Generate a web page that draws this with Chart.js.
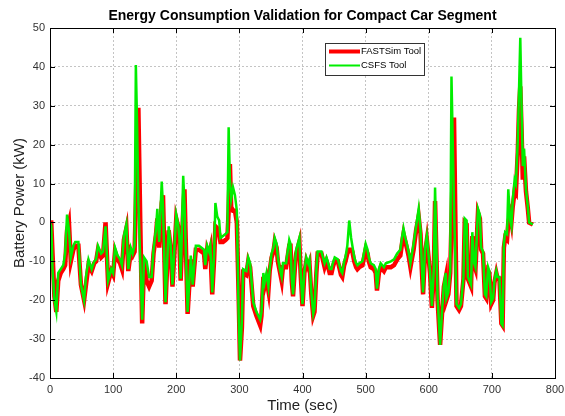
<!DOCTYPE html>
<html>
<head>
<meta charset="utf-8">
<script src="https://cdn.jsdelivr.net/npm/chart.js@4"></script>
<style>
  html, body { margin: 0; padding: 0; background: #fff; }
  #wrap { width: 565px; height: 416px; }
</style>
</head>
<body>
<div id="wrap"><canvas id="powerChart" width="565" height="416"></canvas></div>
<script>
// time in seconds, battery power in kW
const time = [0, 2, 4, 7, 10, 13, 17, 21, 24, 27, 30, 33, 37, 40, 45, 49, 54, 57, 61, 66,
  70, 73, 76, 81, 84, 88, 92, 97, 100, 103, 107, 111, 114, 117, 121, 124, 128, 131, 134, 136,
  138, 140, 143, 146, 149, 153, 157, 161, 164, 168, 170, 173, 177, 179, 183, 188, 191, 194, 197, 200,
  203, 205, 207, 211, 213, 218, 223, 226, 228, 231, 236, 244, 246, 249, 252, 254, 257, 260, 262, 265,
  268, 270, 274, 278, 281, 283, 285, 287, 290, 293, 296, 299, 301, 304, 306, 311, 314, 317, 322, 327,
  333, 335, 338, 340, 343, 346, 348, 351, 354, 356, 359, 361, 364, 367, 369, 374, 379, 381, 383, 385,
  388, 390, 395, 397, 400, 403, 406, 409, 411, 414, 417, 419, 422, 424, 430, 435, 438, 440, 443, 446,
  448, 451, 456, 461, 463, 466, 468, 471, 474, 477, 479, 482, 485, 487, 490, 495, 500, 503, 505, 508,
  513, 516, 518, 521, 524, 529, 532, 540, 545, 550, 555, 558, 560, 563, 566, 568, 571, 576, 580, 584,
  587, 589, 591, 594, 597, 600, 602, 605, 608, 610, 614, 618, 621, 624, 627, 628, 631, 634, 636, 640,
  644, 648, 651, 655, 657, 660, 662, 667, 669, 672, 674, 678, 681, 683, 686, 689, 691, 694, 696, 699,
  702, 704, 707, 709, 712, 715, 717, 719, 721, 724, 726, 729, 731, 733, 736, 738, 741, 743, 745, 747,
  749, 751, 754, 757, 759, 765];

const fastsim = [0, 0, -8, -19, -23, -15, -13, -12, -11, -2, 0, -10, -7, -6, -6, -16, -20, -16, -11, -12.5,
  -10.5, -10, -7, -9, -8.5, 0, -15.5, -12.5, -13.5, -7.5, -9.5, -10.5, -12, -4.5, -1.5, -12.5, -7.5, -8.5, -7.5, 5,
  20, 29.5, 0, -26, -10, -15, -16.5, -15, -8, -3, 1, -6.5, 5, 7, -21, -2, -6.5, -16.5, -8, 1,
  -1, -5, -15, 3, 8.5, -23.5, -9.5, -16.5, -12.5, -7, -7, -8, -12, -7, -8.5, -7, -18.5, -9.5, -1, -1.5,
  -3, -5, -5, -4.5, -4, 3, 15, 4, 3, 3, 0, -20, -35.5, -27, -13, -13.5, -10, -11.5, -21.5, -24,
  -26.5, -24, -14, -16.5, -14.5, -17.5, -12.5, -9, -7.5, -5, -6.5, -10, -12.5, -15, -11.5, -11.5, -6, -6, -15, -19,
  -11.5, -8, -5, -13, -21.5, -13, -10, -11.5, -10.5, -18.5, -24, -23, -13, -8, -8, -11.5, -10, -11, -13, -13,
  -11.5, -10, -10, -13.5, -14, -11, -10, -8, -7, -7, -7.5, -10, -11.5, -12, -11.5, -11, -7, -8, -10, -11.5,
  -12, -13, -17.5, -13, -11.5, -12.5, -11.5, -11.5, -11, -9.5, -8.5, -5, -3, -5, -7, -8.5, -11.5, -7, -2, 1.5,
  -3, -12, -18.5, -8, -4.5, -9.5, -13, -22, -13, 5.5, -20, -31.5, -23.5, -16.5, -14, -20, -18.5, -13, 0, 27,
  -21.5, -22.5, -21.5, -14.5, 0, -0.5, -14.5, -16.5, -3.5, -11, -12, 2.5, 1, -7, -8, -19, -19.5, -12.5, -13, -21,
  -20, -15.5, -13, -14.5, -14.5, -26, -26.5, -6.5, -4, -4.5, 0, 2, 0, 4, 8, 7.5, 18, 29, 35, 24,
  11, 17, 8, 3.5, 0, -0.5];

const csfs = [0, -1, -12, -20, -23, -13, -12, -11, -8, 2, -2, -9, -6, -5, -5, -16, -20, -14, -9.5, -12,
  -10, -9.5, -6, -8, -7.5, -1, -15, -12, -13, -6.5, -8.5, -9.5, -11, -3.5, -0.5, -12, -6.5, -8, -6, 40.5,
  25, 5, -10, -25, -9, -10, -14, -14, -7, -1.5, 3.5, -5, 10.5, 4, -20.5, -1, -5.5, -16, -7, 2,
  -0.5, -4, -14.5, 12, 5, -23, -8.5, -16, -12, -6, -6, -7, -11, -6, -7.5, -6, -18, -8, 5, 1.5,
  0.5, -4, -3.5, -3, -2.5, 24.5, 11, 6, 9, 7, 3, -25, -35.5, -25, -12, -12.5, -9, -10.5, -20.5, -23,
  -25, -23, -13, -15.5, -13, -16.5, -12, -8, -6.5, -4, -5.5, -9, -12, -14, -10.5, -10.5, -4.5, -5.5, -14.5, -18.5,
  -10.5, -7, -4, -12.5, -21, -12.5, -9, -10.5, -9.5, -18, -23.5, -22, -12, -7.5, -7.5, -10.5, -9, -10, -12, -12,
  -10.5, -9, -9.5, -12.5, -13, -10, -9, -6, 0.5, -4, -6, -9, -10.5, -11, -10.5, -10, -5.5, -7, -9, -10.5,
  -11, -12, -17, -12, -10.5, -11.5, -10.5, -10, -9.5, -8, -7, -3.5, -1.5, -4, -6, -7.5, -10.5, -5.5, -1, 3.5,
  -2, -11, -18, -7, -3.5, -9, -12.5, -21.5, -12, 9, -19, -31.5, -23, -16, -13, -19.5, -18, -12.5, 37.5, 4,
  -21, -22, -21, -14, 1, 0.5, -14, -16, -2.5, -10.5, -11.5, 3.5, 2, -6.5, -7.5, -18.5, -19, -11.5, -12.5, -20.5,
  -19.5, -15, -12.5, -14, -14, -26, -26.5, -5.5, -2.5, -3, 8.5, 0.5, -1, 5.5, 11, 10, 21, 34, 47.5, 30,
  14.5, 19, 8.5, 4, 0, -0.5];

const seriesNames = ['FASTSim Tool', 'CSFS Tool'];
const seriesColors = ['#ff0000', '#00ee00'];

const toPoints = vals => time.map((t, i) => ({ x: t, y: vals[i] }));

// box frame, title and legend in MATLAB style
const matlabFrame = {
  id: 'matlabFrame',
  afterDraw(chart) {
    const ctx = chart.ctx;
    const a = chart.chartArea;
    ctx.save();
    ctx.strokeStyle = '#000';
    ctx.lineWidth = 1;
    ctx.strokeRect(a.left + 0.5, a.top + 0.5, a.right - a.left, a.bottom - a.top);

    // small inward ticks like MATLAB
    const xs = chart.scales.x, ys = chart.scales.y;
    ctx.beginPath();
    xs.ticks.forEach(t => {
      const px = Math.round(xs.getPixelForValue(t.value)) + 0.5;
      ctx.moveTo(px, a.bottom); ctx.lineTo(px, a.bottom - 5);
      ctx.moveTo(px, a.top); ctx.lineTo(px, a.top + 5);
    });
    ys.ticks.forEach(t => {
      const py = Math.round(ys.getPixelForValue(t.value)) + 0.5;
      ctx.moveTo(a.left, py); ctx.lineTo(a.left + 5, py);
      ctx.moveTo(a.right, py); ctx.lineTo(a.right - 5, py);
    });
    ctx.stroke();

    // title
    ctx.fillStyle = '#000';
    ctx.font = 'bold 14px "Liberation Sans", Arial, sans-serif';
    ctx.textAlign = 'center';
    ctx.textBaseline = 'middle';
    ctx.fillText('Energy Consumption Validation for Compact Car Segment', (a.left + a.right) / 2, 16);

    // legend
    const lx = 325, ly = 43, lw = 99, lh = 32;
    ctx.fillStyle = '#fff';
    ctx.fillRect(lx, ly, lw, lh);
    ctx.strokeStyle = '#333';
    ctx.lineWidth = 1;
    ctx.strokeRect(lx + 0.5, ly + 0.5, lw, lh);
    ctx.font = '9.5px "Liberation Sans", Arial, sans-serif';
    ctx.textAlign = 'left';
    seriesNames.forEach((name, i) => {
      const y = ly + 8.5 + i * 14;
      ctx.strokeStyle = seriesColors[i];
      ctx.lineWidth = i === 0 ? 4 : 2;
      ctx.beginPath();
      ctx.moveTo(lx + 4, y); ctx.lineTo(lx + 35, y);
      ctx.stroke();
      ctx.fillStyle = '#000';
      ctx.fillText(name, lx + 36, y);
    });
    ctx.restore();
  }
};

const gridStyle = { color: '#c4c4c4', lineWidth: 1, drawTicks: false };

const ctxPower = document.getElementById('powerChart').getContext('2d');
const powerChart = new Chart(ctxPower, {
  type: 'line',
  data: {
    datasets: [{
      label: seriesNames[0],
      data: toPoints(fastsim),
      borderColor: seriesColors[0],
      borderWidth: 4.5,
      pointRadius: 0,
      tension: 0,
      order: 1
    }, {
      label: seriesNames[1],
      data: toPoints(csfs),
      borderColor: seriesColors[1],
      borderWidth: 2.5,
      pointRadius: 0,
      tension: 0,
      order: 0
    }]
  },
  options: {
    responsive: false,
    animation: false,
    layout: { padding: { top: 28, right: 10, left: 0, bottom: 0 } },
    plugins: {
      legend: { display: false },
      tooltip: { enabled: false }
    },
    scales: {
      x: {
        type: 'linear',
        min: 0,
        max: 800,
        ticks: { stepSize: 100, padding: 5, maxRotation: 0, color: '#333',
                 font: { family: '"Liberation Sans", Arial', size: 11 } },
        grid: gridStyle,
        border: { display: false, dash: [2, 2] },
        title: { display: true, text: 'Time (sec)', color: '#222', padding: { top: 0, bottom: 1 },
                 font: { family: '"Liberation Sans", Arial', size: 15 } },
        afterFit: s => { s.height = 38; s.paddingLeft = 0; s.paddingRight = 0; }
      },
      y: {
        min: -40,
        max: 50,
        ticks: { stepSize: 10, padding: 5, color: '#333',
                 font: { family: '"Liberation Sans", Arial', size: 11 } },
        grid: gridStyle,
        border: { display: false, dash: [2, 2] },
        title: { display: true, text: 'Battery Power (kW)', color: '#222', padding: { top: 11, bottom: 0 },
                 font: { family: '"Liberation Sans", Arial', size: 15 } },
        afterFit: s => { s.width = 50; }
      }
    }
  },
  plugins: [matlabFrame]
});
</script>
</body>
</html>
